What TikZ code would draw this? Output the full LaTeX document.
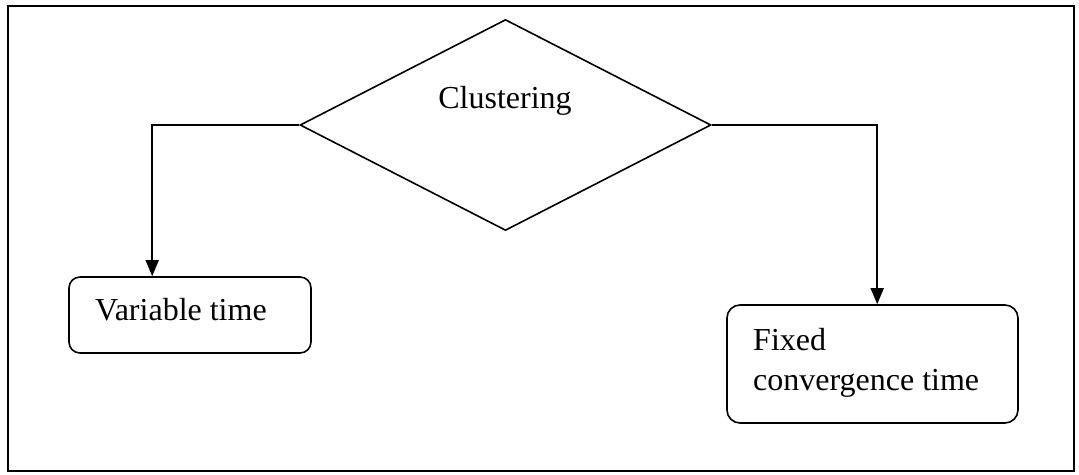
\documentclass[tikz,border=0pt]{standalone}
\usepackage{fontspec}
\setmainfont{Liberation Serif}
\usetikzlibrary{shapes.geometric,arrows.meta}
\begin{document}
\begin{tikzpicture}[x=1pt,y=-1pt,
  line/.style={line width=1.6pt,draw=black},
  arr/.style={line,-{Triangle[width=13pt,length=16pt]}},
  decision/.style={diamond,line,minimum width=411pt,minimum height=211pt,inner sep=0pt,shape aspect=1.95},
  box/.style={rectangle,line,inner sep=0pt},
  lbl/.style={anchor=base west,inner sep=0pt,font=\fontsize{32}{40}\selectfont}
]
\useasboundingbox (0,0) rectangle (1079,474);
% outer frame
\draw[line width=1.8pt] (8,6) rectangle (1074,471);

% decision
\node[decision] (dia) at (505.5,125) {};
\node[lbl,anchor=base] (diat) at (505,108) {Clustering};

% outcomes
\node[box,rounded corners=11pt,minimum width=242pt,minimum height=76pt] (vbox) at (190,315) {};
\node[lbl] (vtxt) at (95,320) {Variable time};

\node[box,rounded corners=13pt,minimum width=291pt,minimum height=118pt] (fbox) at (872.5,364) {};
\node[lbl] (ftxt1) at (753,350) {Fixed};
\node[lbl] (ftxt2) at (753,390) {convergence time};

% connectors
\draw[arr] (dia.west) -| ([xshift=84pt]vbox.north west);
\draw[arr] (dia.east) -| ([xshift=151pt]fbox.north west);
\end{tikzpicture}
\end{document}
